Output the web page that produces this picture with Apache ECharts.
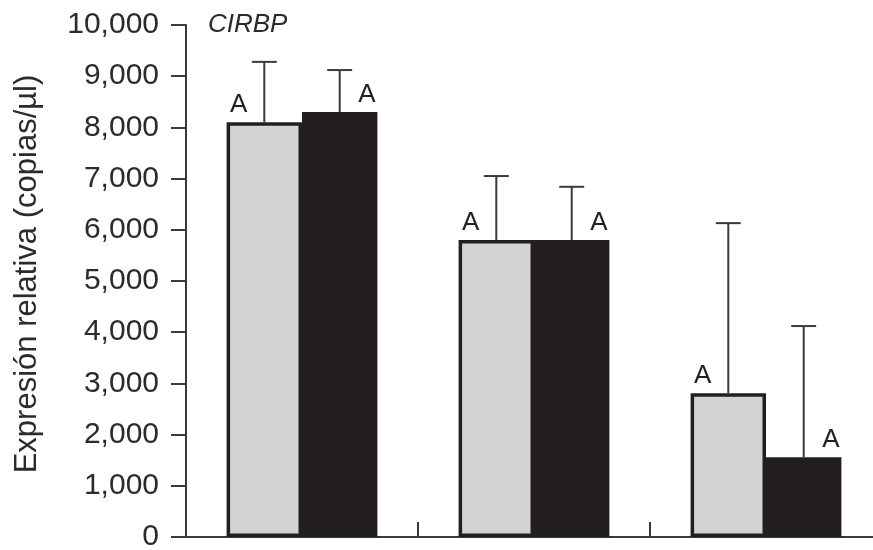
<!DOCTYPE html>
<html>
<head>
<meta charset="utf-8">
<script src="https://cdn.jsdelivr.net/npm/echarts@6/dist/echarts.min.js"></script>
<style>
  html, body { margin: 0; padding: 0; background: #fff; }
  #chart { width: 873px; height: 550px; }
</style>
</head>
<body>
<div id="chart"></div>
<script>
// values (copias/µl)
const groups = ['G1', 'G2', 'G3'];
const greyMeans = [8100, 5800, 2810];
const greyUpper = [9280, 7050, 6130];
const blackMeans = [8300, 5800, 1560];
const blackUpper = [9120, 6840, 4120];
const greyLetters = ['A', 'A', 'A'];
const blackLetters = ['A', 'A', 'A'];

const ink = '#231f20';
const axisInk = '#3a3a3a';
const barShare = 0.325;

const chart = echarts.init(document.getElementById('chart'));

function errorBars(means, upper, side) {
  return {
    type: 'custom',
    z: 5,
    silent: true,
    data: means.map((m, i) => [i, m, upper[i]]),
    encode: { x: 0, y: [1, 2] },
    renderItem(params, api) {
      const band = api.size([1, 0])[0];
      const base = api.coord([api.value(0), api.value(1)]);
      const top = api.coord([api.value(0), api.value(2)]);
      const x = base[0] + side * band * barShare / 2;
      const half = 12.5;
      const style = { stroke: axisInk, lineWidth: 2 };
      return {
        type: 'group',
        children: [
          { type: 'line', shape: { x1: x, y1: base[1], x2: x, y2: top[1] }, style },
          { type: 'line', shape: { x1: x - half, y1: top[1], x2: x + half, y2: top[1] }, style }
        ]
      };
    }
  };
}

const letterStyle = {
  show: true,
  fontFamily: 'Liberation Sans, Arial, sans-serif',
  fontSize: 26,
  lineHeight: 26,
  color: ink,
  align: 'center',
  verticalAlign: 'bottom'
};

const option = {
  animation: false,
  backgroundColor: '#fff',
  grid: { left: 186, top: 25, bottom: 13, right: -9, outerBoundsMode: 'none' },
  title: {
    text: 'CIRBP',
    left: 203,
    top: 7,
    textStyle: {
      fontFamily: 'Liberation Sans, Arial, sans-serif',
      fontStyle: 'italic',
      fontWeight: 'normal',
      fontSize: 26,
      color: '#2b2b2b'
    }
  },
  xAxis: {
    type: 'category',
    data: groups,
    boundaryGap: true,
    axisLine: { lineStyle: { color: axisInk, width: 2 } },
    axisTick: { show: true, inside: true, length: 15, lineStyle: { color: axisInk, width: 2 } },
    axisLabel: { show: false },
    splitLine: { show: false }
  },
  yAxis: {
    type: 'value',
    min: 0,
    max: 10000,
    interval: 1000,
    name: 'Expresión relativa (copias/µl)',
    nameLocation: 'middle',
    nameGap: 143,
    nameTextStyle: {
      fontFamily: 'Liberation Sans, Arial, sans-serif',
      fontSize: 31,
      color: '#2b2b2b',
      padding: [0, 0, 0, 14]
    },
    axisLine: { show: true, lineStyle: { color: axisInk, width: 2 } },
    axisTick: { show: true, length: 15, lineStyle: { color: axisInk, width: 2 } },
    axisLabel: {
      margin: 27,
      fontFamily: 'Liberation Sans, Arial, sans-serif',
      fontSize: 30,
      color: '#2b2b2b',
      formatter: (v) => v.toLocaleString('en-US')
    },
    splitLine: { show: false }
  },
  series: [
    {
      type: 'bar',
      data: greyMeans,
      barWidth: (barShare * 100) + '%',
      barGap: '0%',
      itemStyle: { color: '#d1d3d4', borderColor: ink, borderWidth: 3.5 },
      label: Object.assign({}, letterStyle, {
        position: ['16%', -4],
        formatter: (p) => greyLetters[p.dataIndex]
      })
    },
    {
      type: 'bar',
      data: blackMeans,
      barWidth: (barShare * 100) + '%',
      barGap: '0%',
      itemStyle: { color: ink },
      label: Object.assign({}, letterStyle, {
        position: ['86%', -4],
        formatter: (p) => blackLetters[p.dataIndex]
      })
    },
    errorBars(greyMeans, greyUpper, -1),
    errorBars(blackMeans, blackUpper, 1)
  ]
};

chart.setOption(option);
</script>
</body>
</html>
